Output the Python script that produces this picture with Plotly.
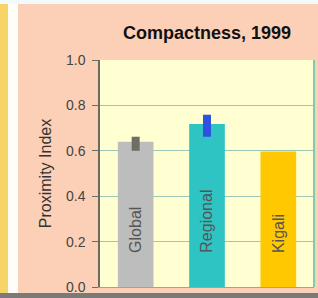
import plotly.graph_objects as go

categories = ["Global", "Regional", "Kigali"]
values = [0.64, 0.718, 0.597]
err_plus = [0.022, 0.041, 0.0]
err_minus = [0.04, 0.056, 0.0]
bar_colors = ["#BDBDBD", "#2EC4C4", "#FFC800"]
err_colors = ["#6E6E66", "#3050E0"]
y_ticks = [0.0, 0.2, 0.4, 0.6, 0.8, 1.0]
label_y = 0.14

W, H = 318, 298
L, R, T, B = 100, 4, 60, 11
pw, ph = W - L - R, H - T - B

def px(x):
    return (x - L) / pw

def py(y):
    return 1 - (y - T) / ph

FONT = "Liberation Sans, Arial, sans-serif"

fig = go.Figure()
fig.add_trace(go.Bar(
    x=categories, y=values, marker=dict(color=bar_colors, line=dict(width=0)),
    width=0.5, showlegend=False, hoverinfo="skip",
))
for i in range(2):
    fig.add_trace(go.Scatter(
        x=[categories[i]], y=[values[i]], mode="markers",
        marker=dict(size=1, color="rgba(0,0,0,0)"),
        error_y=dict(type="data", symmetric=False, array=[err_plus[i]],
                     arrayminus=[err_minus[i]], color=err_colors[i],
                     thickness=8, width=0),
        showlegend=False, hoverinfo="skip",
    ))

for c in categories:
    fig.add_annotation(x=c, y=label_y, text=c, textangle=-90, showarrow=False,
                       xref="x", yref="y", yanchor="bottom",
                       font=dict(family=FONT, size=16, color="#555555"))

shapes = [
    dict(type="rect", xref="paper", yref="paper", x0=px(0), x1=px(8), y0=py(H), y1=py(0),
         fillcolor="#F6D468", line=dict(width=0), layer="below"),
    dict(type="rect", xref="paper", yref="paper", x0=px(8), x1=px(18), y0=py(H), y1=py(0),
         fillcolor="#FFFDF8", line=dict(width=0), layer="below"),
    dict(type="rect", xref="paper", yref="paper", x0=px(0), x1=px(W), y0=py(4), y1=py(0),
         fillcolor="#F4FAFC", line=dict(width=0), layer="below"),
    dict(type="rect", xref="paper", yref="paper", x0=px(0), x1=px(W), y0=py(H), y1=py(293),
         fillcolor="#7A7A78", line=dict(width=0), layer="below"),
    dict(type="line", xref="paper", yref="paper", x0=1, x1=1, y0=0, y1=1,
         line=dict(color="#7FCDB0", width=2)),
]

fig.update_layout(
    width=W, height=H,
    margin=dict(l=L, r=R, t=T, b=B),
    paper_bgcolor="#FBD0B6",
    plot_bgcolor="#FFFFD2",
    shapes=shapes,
    bargap=0.5,
    title=dict(text="<b>Compactness, 1999</b>", xref="container", x=207 / W,
               xanchor="center", yref="container", y=1 - 33 / H, yanchor="middle",
               font=dict(family=FONT, size=18, color="#111111")),
    xaxis=dict(showticklabels=False, showgrid=False, showline=True,
               linecolor="#9AA89A", linewidth=1, ticks="", fixedrange=True),
    yaxis=dict(range=[0, 1.0], tickvals=y_ticks, tickformat=".1f",
               showgrid=True, gridcolor="#9CC6B6", gridwidth=1,
               showline=True, linecolor="#6B6B5E", linewidth=1.5,
               ticks="outside", ticklen=6, tickcolor="#6B6B5E",
               ticklabelstandoff=4,
               tickfont=dict(family=FONT, size=14, color="#444444"),
               title=dict(text="Proximity Index", standoff=10,
                          font=dict(family=FONT, size=16, color="#333333")),
               zeroline=False, fixedrange=True),
)

fig.write_html("out.html", config={"displayModeBar": False},
               post_script="document.body.style.margin='0';document.body.style.overflow='hidden';")
